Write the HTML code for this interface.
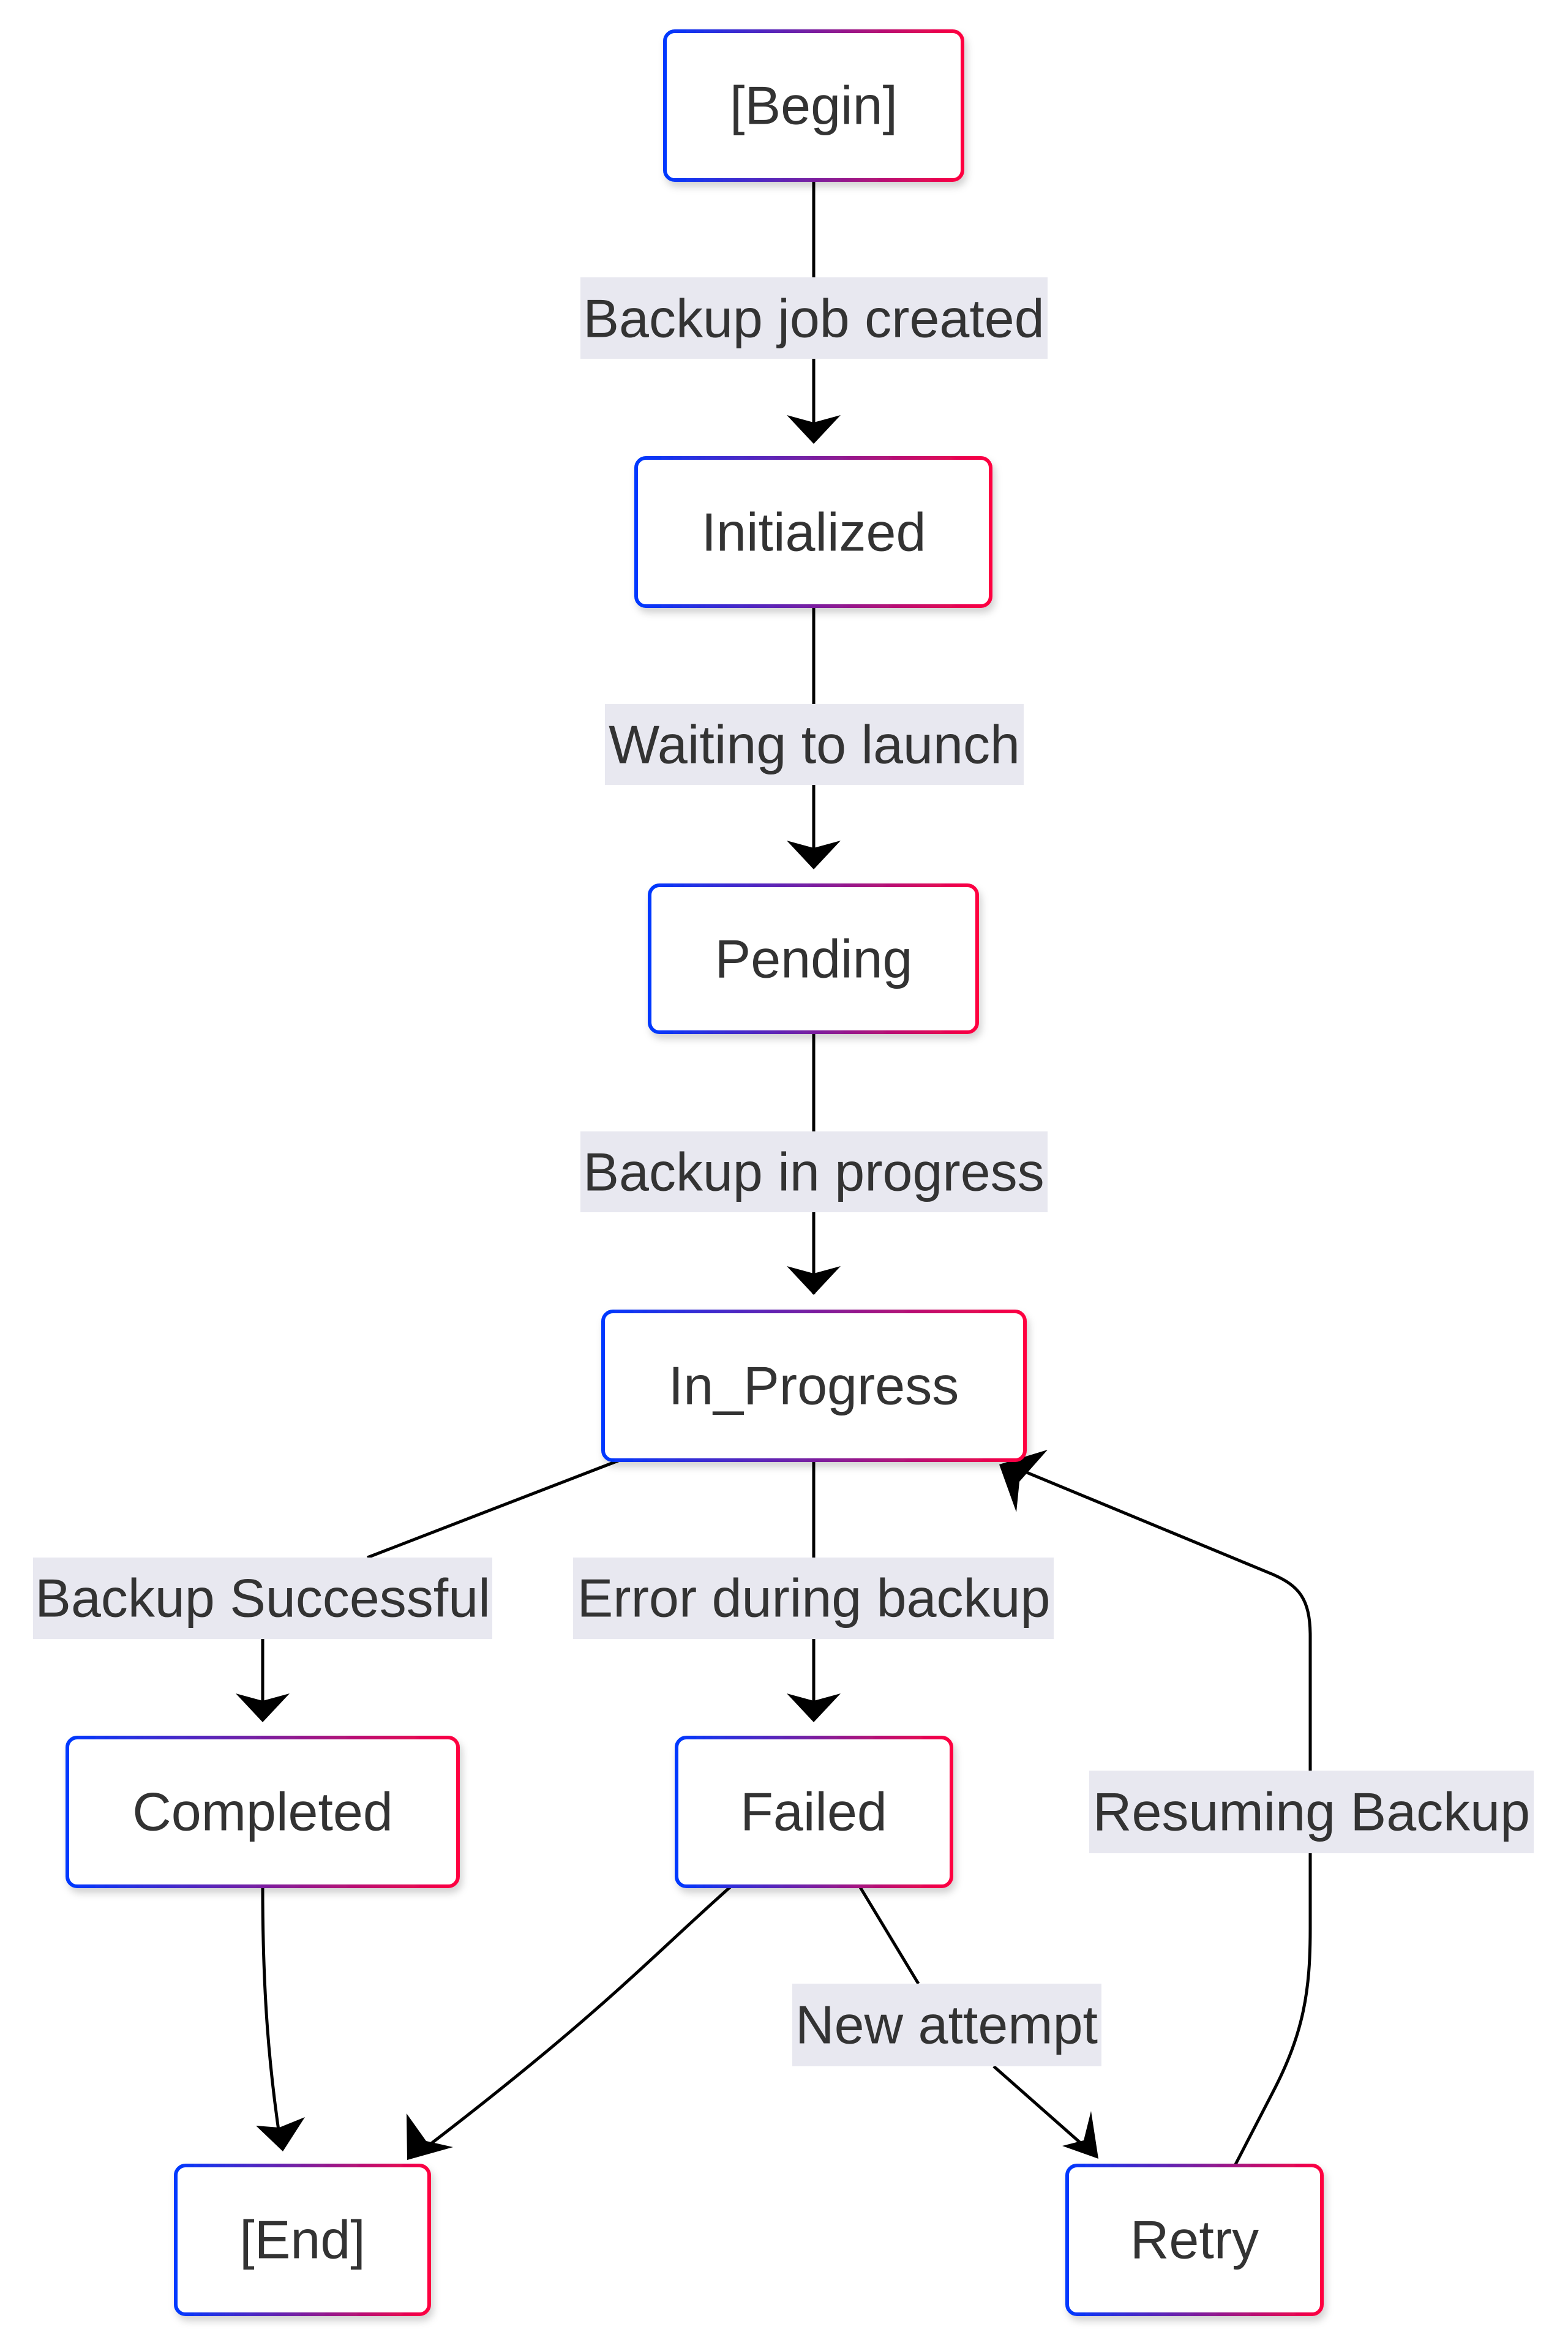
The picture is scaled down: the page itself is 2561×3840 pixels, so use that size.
<!DOCTYPE html>
<html><head><meta charset="utf-8"><style>html,body{margin:0;padding:0;background:#fff}svg{display:block}</style></head>
<body>
<svg width="2561" height="3840" viewBox="0 0 2561 3840" xmlns="http://www.w3.org/2000/svg">
<defs>
<linearGradient id="g" x1="0" y1="0" x2="1" y2="0"><stop offset="0" stop-color="#0038ff"/><stop offset="0.5" stop-color="#7a1fa0"/><stop offset="1" stop-color="#ff0040"/></linearGradient>
<filter id="sh" x="-10%" y="-10%" width="120%" height="130%"><feDropShadow dx="4" dy="8" stdDeviation="6" flood-color="#000" flood-opacity="0.18"/></filter>
<marker id="a" viewBox="0 0 20 20" refX="18" refY="10" markerWidth="18" markerHeight="18" markerUnits="userSpaceOnUse" orient="auto" style="overflow:visible">
<path d="M0,0 L20,10 L0,20 L5,10 Z" fill="#000" transform="scale(4.5) translate(-14,-7.8) scale(1)"/>
</marker>
</defs>
<style>
.n{fill:#fff;stroke:url(#g);stroke-width:6;filter:url(#sh)}
.e{fill:none;stroke:#000;stroke-width:5}
.t{font-family:"Liberation Sans",sans-serif;font-size:88px;fill:#333;text-anchor:middle;dominant-baseline:central}
.l{fill:#e8e8f0}
</style>
<!-- edges -->
<g class="e">
<path d="M1329,294 V720"/>
<path d="M1329,990 V1418"/>
<path d="M1329,1686 V2114"/>
<path d="M1012,2385 L600,2544"/>
<path d="M429,2677 V2808"/>
<path d="M1329,2385 V2808"/>
<path d="M429,3081 C429,3260 440,3380 458,3500"/>
<path d="M1194,3081 C1060,3200 980,3290 690,3512"/>
<path d="M1404,3081 L1500,3240"/>
<path d="M1623,3375 L1776,3510"/>
<path d="M2017,3537 L2078,3419 C2130,3320 2140,3250 2140,3150 V2672 C2140,2610 2120,2590 2080,2572 L1660,2398"/>
</g>
<!-- arrowheads -->
<g fill="#000">
<path d="M1285,678 L1329,725 L1373,678 L1329,690 Z"/>
<path d="M1285,1373 L1329,1420 L1373,1373 L1329,1385 Z"/>
<path d="M1285,2068 L1329,2115 L1373,2068 L1329,2080 Z"/>
<path d="M385,2766 L429,2813 L473,2766 L429,2778 Z"/>
<path d="M1285,2766 L1329,2813 L1373,2766 L1329,2778 Z"/>
<path d="M418,3472 L462,3514 L498,3458 L456,3475 Z"/>
<path d="M664,3452 L665,3528 L740,3507 L696,3497 Z"/>
<path d="M1735,3505 L1794,3526 L1782,3448 L1770,3496 Z"/>
<path d="M1711,2368 L1632,2392 L1660,2470 L1665,2420 Z"/>
</g>
<!-- labels -->
<rect class="l" x="948" y="453" width="763" height="133"/><text class="t" x="1329" y="520">Backup job created</text>
<rect class="l" x="988" y="1150" width="684" height="132"/><text class="t" x="1330" y="1216">Waiting to launch</text>
<rect class="l" x="948" y="1848" width="763" height="132"/><text class="t" x="1329" y="1914">Backup in progress</text>
<rect class="l" x="54" y="2544" width="750" height="133"/><text class="t" x="429" y="2610">Backup Successful</text>
<rect class="l" x="936" y="2544" width="785" height="133"/><text class="t" x="1329" y="2610">Error during backup</text>
<rect class="l" x="1779" y="2892" width="726" height="135"/><text class="t" x="2142" y="2959">Resuming Backup</text>
<rect class="l" x="1294" y="3240" width="505" height="135"/><text class="t" x="1546" y="3307">New attempt</text>
<!-- nodes -->
<rect class="n" x="1086" y="51" width="486" height="243" rx="16"/><text class="t" x="1329" y="172">[Begin]</text>
<rect class="n" x="1039" y="748" width="579" height="242" rx="16"/><text class="t" x="1329" y="869">Initialized</text>
<rect class="n" x="1061" y="1446" width="535" height="240" rx="16"/><text class="t" x="1329" y="1566">Pending</text>
<rect class="n" x="985" y="2142" width="689" height="243" rx="16"/><text class="t" x="1329" y="2263">In_Progress</text>
<rect class="n" x="110" y="2838" width="638" height="243" rx="16"/><text class="t" x="429" y="2959">Completed</text>
<rect class="n" x="1105" y="2838" width="449" height="243" rx="16"/><text class="t" x="1329" y="2959">Failed</text>
<rect class="n" x="287" y="3537" width="414" height="243" rx="16"/><text class="t" x="494" y="3658">[End]</text>
<rect class="n" x="1743" y="3537" width="416" height="243" rx="16"/><text class="t" x="1951" y="3658">Retry</text>
</svg>
</body></html>
